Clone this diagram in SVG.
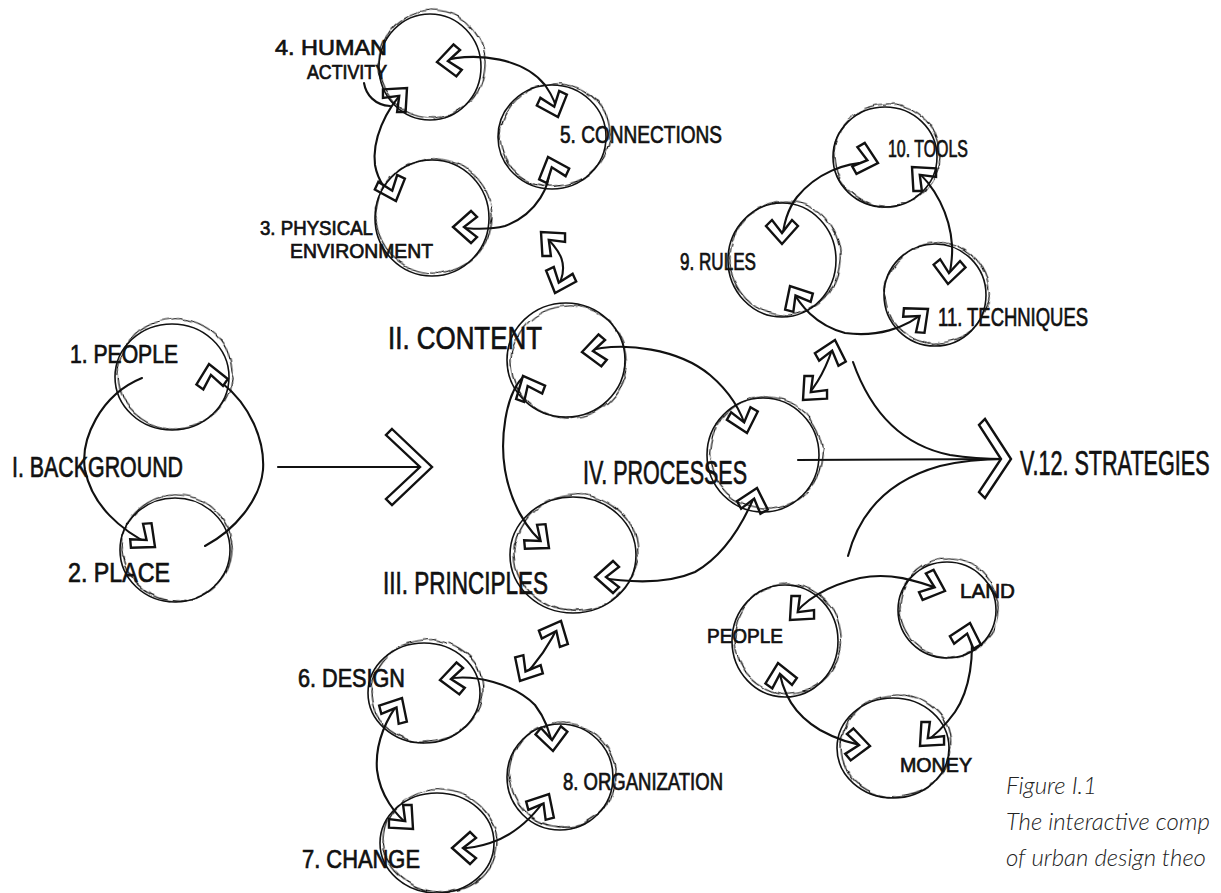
<svg xmlns="http://www.w3.org/2000/svg" xmlns:xlink="http://www.w3.org/1999/xlink" width="1221" height="893" viewBox="0 0 1221 893">
<style>
.c1{fill:none;stroke:#111;stroke-width:1.6}
.c2{fill:none;stroke:#111;stroke-width:1.2;filter:url(#rough)}
.ln{fill:none;stroke:#111;stroke-width:2.1;stroke-linecap:round;stroke-linejoin:round}
.ah{fill:#fff;stroke:#111;stroke-width:2.4;stroke-linejoin:miter}
.lb{font-family:"Liberation Sans",Arial,sans-serif;fill:#111;stroke:#111;stroke-width:0.7}
.cap{font-family:Lato,"Open Sans","Liberation Sans",sans-serif;font-style:italic;font-weight:300;font-size:24px;fill:#222}
</style>
<defs>
<filter id="rough" x="-10%" y="-10%" width="120%" height="120%">
<feTurbulence type="fractalNoise" baseFrequency="0.06" numOctaves="2" seed="4" result="n"/>
<feDisplacementMap in="SourceGraphic" in2="n" scale="5" xChannelSelector="R" yChannelSelector="G"/>
</filter>
<path id="ah" class="ah" d="M-18,-16 L0,0 L-18,16 L-24,10 L-11,0 L-24,-10 Z"/>
</defs>
<rect width="1221" height="893" fill="#fff"/>

<g id="connectors">
<path class="ln" d="M142,378 C100,395 80,440 85,470 C92,505 120,530 153,546"/>
<path class="ln" d="M222,383 C250,405 265,440 263,470 C260,500 235,530 205,546"/>
<path class="ln" d="M278,467 L430,467"/>
<path class="ln" d="M437,62 C480,50 525,60 545,85 C552,95 557,105 558,116"/>
<path class="ln" d="M405,90 C385,110 372,140 375,165 C378,182 388,193 396,201"/>
<path class="ln" d="M364,83 C366,95 375,105 390,106"/>
<path class="ln" d="M548,157 C555,185 535,215 505,226 C490,230 470,229 453,227"/>
<path class="ln" d="M541,232 C560,250 572,265 555,292"/>
<path class="ln" d="M877,163 C845,160 815,175 797,197 C787,210 783,225 782,243"/>
<path class="ln" d="M913,168 C935,185 950,215 952,245 C953,260 950,272 948,283"/>
<path class="ln" d="M790,287 C800,305 815,325 845,333 C875,337 905,330 928,309"/>
<path class="ln" d="M803,400 C818,385 828,365 835,340"/>
<path class="ln" d="M583,352 C625,340 680,350 710,375 C730,392 742,412 747,432"/>
<path class="ln" d="M523,377 C505,395 500,440 505,470 C510,500 525,530 548,547"/>
<path class="ln" d="M757,490 C745,520 725,555 695,572 C665,585 625,582 596,577"/>
<path class="ln" d="M798,460 L1005,459"/>
<path class="ln" d="M853,362 C870,410 900,445 950,455 C975,459 995,459 1005,459"/>
<path class="ln" d="M848,556 C860,510 890,480 940,466 C965,460 990,459 1005,459"/>
<path class="ln" d="M441,680 C475,672 515,685 535,705 C545,718 551,735 553,750"/>
<path class="ln" d="M402,698 C385,720 375,745 377,770 C380,795 395,815 412,828"/>
<path class="ln" d="M549,794 C535,815 515,835 490,843 C475,848 462,849 452,848"/>
<path class="ln" d="M560,622 C550,645 535,665 520,680"/>
<path class="ln" d="M790,620 C805,598 830,585 860,578 C890,572 915,580 945,591"/>
<path class="ln" d="M778,663 C782,695 795,715 820,730 C838,740 855,745 870,746"/>
<path class="ln" d="M970,623 C975,655 970,690 955,712 C945,726 932,738 920,746"/>
</g>

<g id="arrowheads">
<use xlink:href="#ah" transform="translate(437,62) rotate(175)"/>
<use xlink:href="#ah" transform="translate(407,88) rotate(-45)"/>
<use xlink:href="#ah" transform="translate(558,117) rotate(70)"/>
<use xlink:href="#ah" transform="translate(548,157) rotate(-110)"/>
<use xlink:href="#ah" transform="translate(396,201) rotate(70)"/>
<use xlink:href="#ah" transform="translate(453,227) rotate(180)"/>
<use xlink:href="#ah" transform="translate(541,232) rotate(-135)"/>
<use xlink:href="#ah" transform="translate(555,293) rotate(110)"/>
<use xlink:href="#ah" transform="translate(878,163) rotate(15)"/>
<use xlink:href="#ah" transform="translate(912,167) rotate(-135)"/>
<use xlink:href="#ah" transform="translate(782,244) rotate(90)"/>
<use xlink:href="#ah" transform="translate(790,286) rotate(-120)"/>
<use xlink:href="#ah" transform="translate(948,284) rotate(95)"/>
<use xlink:href="#ah" transform="translate(928,309) rotate(-40)"/>
<use xlink:href="#ah" transform="translate(835,340) rotate(-75)"/>
<use xlink:href="#ah" transform="translate(803,400) rotate(135)"/>
<use xlink:href="#ah" transform="translate(209,364) rotate(-100)"/>
<use xlink:href="#ah" transform="translate(155,547) rotate(40)"/>
<use xlink:href="#ah" transform="translate(582,352) rotate(175)"/>
<use xlink:href="#ah" transform="translate(523,376) rotate(-115)"/>
<use xlink:href="#ah" transform="translate(747,433) rotate(75)"/>
<use xlink:href="#ah" transform="translate(757,488) rotate(-75)"/>
<use xlink:href="#ah" transform="translate(549,548) rotate(40)"/>
<use xlink:href="#ah" transform="translate(595,577) rotate(180)"/>
<use xlink:href="#ah" transform="translate(440,680) rotate(175)"/>
<use xlink:href="#ah" transform="translate(402,698) rotate(-60)"/>
<use xlink:href="#ah" transform="translate(553,751) rotate(85)"/>
<use xlink:href="#ah" transform="translate(549,794) rotate(-60)"/>
<use xlink:href="#ah" transform="translate(413,829) rotate(45)"/>
<use xlink:href="#ah" transform="translate(452,848) rotate(180)"/>
<use xlink:href="#ah" transform="translate(561,621) rotate(-65)"/>
<use xlink:href="#ah" transform="translate(520,681) rotate(120)"/>
<use xlink:href="#ah" transform="translate(790,620) rotate(135)"/>
<use xlink:href="#ah" transform="translate(778,663) rotate(-100)"/>
<use xlink:href="#ah" transform="translate(945,591) rotate(20)"/>
<use xlink:href="#ah" transform="translate(970,623) rotate(-75)"/>
<use xlink:href="#ah" transform="translate(870,746) rotate(5)"/>
<use xlink:href="#ah" transform="translate(920,746) rotate(135)"/>
<path class="ah" d="M392,429 L432,467 L392,505 L386,499 L420,467 L386,435 Z"/>
<path class="ah" d="M985,419 L1011,459 L985,498 L979,492 L1001,459 L979,425 Z"/>
</g>

<g id="n-human-activity">
<ellipse class="c1" cx="430" cy="67" rx="51" ry="53"/>
<ellipse class="c2" cx="432" cy="64" rx="53" ry="54" transform="rotate(8 432 64)"/>
<text class="lb" x="275" y="55" font-size="22" textLength="112" lengthAdjust="spacingAndGlyphs">4. HUMAN</text>
<text class="lb" x="307" y="79" font-size="20" textLength="80" lengthAdjust="spacingAndGlyphs">ACTIVITY</text>
</g>
<g id="n-connections">
<ellipse class="c1" cx="552" cy="137" rx="54" ry="52"/>
<ellipse class="c2" cx="555" cy="135" rx="55" ry="51" transform="rotate(-10 555 135)"/>
<text class="lb" x="560" y="143" font-size="24" textLength="162" lengthAdjust="spacingAndGlyphs">5. CONNECTIONS</text>
</g>
<g id="n-physical-environment">
<ellipse class="c1" cx="432" cy="218" rx="57" ry="58"/>
<ellipse class="c2" cx="434" cy="216" rx="58" ry="57" transform="rotate(12 434 216)"/>
<text class="lb" x="260" y="235" font-size="20" textLength="113" lengthAdjust="spacingAndGlyphs">3. PHYSICAL</text>
<text class="lb" x="290" y="258" font-size="20" textLength="143" lengthAdjust="spacingAndGlyphs">ENVIRONMENT</text>
</g>
<g id="n-tools">
<ellipse class="c1" cx="885" cy="157" rx="52" ry="50"/>
<ellipse class="c2" cx="887" cy="155" rx="53" ry="51" transform="rotate(-8 887 155)"/>
<text class="lb" x="888" y="157" font-size="23" textLength="80" lengthAdjust="spacingAndGlyphs">10. TOOLS</text>
</g>
<g id="n-rules">
<ellipse class="c1" cx="782" cy="260" rx="54" ry="57"/>
<ellipse class="c2" cx="785" cy="258" rx="55" ry="57" transform="rotate(10 785 258)"/>
<text class="lb" x="680" y="270" font-size="23" textLength="76" lengthAdjust="spacingAndGlyphs">9. RULES</text>
</g>
<g id="n-techniques">
<ellipse class="c1" cx="935" cy="295" rx="51" ry="51"/>
<ellipse class="c2" cx="937" cy="293" rx="52" ry="50" transform="rotate(-12 937 293)"/>
<text class="lb" x="938" y="326" font-size="25" textLength="150" lengthAdjust="spacingAndGlyphs">11. TECHNIQUES</text>
</g>
<g id="n-people-1">
<ellipse class="c1" cx="172" cy="377" rx="57" ry="53"/>
<ellipse class="c2" cx="175" cy="374" rx="57" ry="55" transform="rotate(-10 175 374)"/>
<text class="lb" x="70" y="363" font-size="25" textLength="108" lengthAdjust="spacingAndGlyphs">1. PEOPLE</text>
</g>
<g id="n-background">
<text class="lb" x="12" y="477" font-size="29" textLength="171" lengthAdjust="spacingAndGlyphs">I. BACKGROUND</text>
</g>
<g id="n-place">
<ellipse class="c1" cx="175" cy="550" rx="55" ry="52"/>
<ellipse class="c2" cx="177" cy="548" rx="55" ry="53" transform="rotate(8 177 548)"/>
<text class="lb" x="68" y="582" font-size="27" textLength="102" lengthAdjust="spacingAndGlyphs">2. PLACE</text>
</g>
<g id="n-content">
<ellipse class="c1" cx="566" cy="360" rx="59" ry="57"/>
<ellipse class="c2" cx="569" cy="362" rx="58" ry="56" transform="rotate(-8 569 362)"/>
<text class="lb" x="388" y="349" font-size="31" textLength="154" lengthAdjust="spacingAndGlyphs">II. CONTENT</text>
</g>
<g id="n-processes">
<ellipse class="c1" cx="763" cy="455" rx="56" ry="57"/>
<ellipse class="c2" cx="766" cy="453" rx="56" ry="56" transform="rotate(10 766 453)"/>
<text class="lb" x="583" y="484" font-size="33" textLength="164" lengthAdjust="spacingAndGlyphs">IV. PROCESSES</text>
</g>
<g id="n-principles">
<ellipse class="c1" cx="573" cy="555" rx="63" ry="58"/>
<ellipse class="c2" cx="576" cy="553" rx="62" ry="58" transform="rotate(-8 576 553)"/>
<text class="lb" x="383" y="594" font-size="31" textLength="165" lengthAdjust="spacingAndGlyphs">III. PRINCIPLES</text>
</g>
<g id="n-strategies">
<text class="lb" x="0" y="0" font-size="36" transform="translate(1020,475) scale(0.6,1)">V.12. STRATEGIES</text>
</g>
<g id="n-design">
<ellipse class="c1" cx="424" cy="693" rx="56" ry="50"/>
<ellipse class="c2" cx="427" cy="691" rx="56" ry="51" transform="rotate(-10 427 691)"/>
<text class="lb" x="298" y="687" font-size="25" textLength="107" lengthAdjust="spacingAndGlyphs">6. DESIGN</text>
</g>
<g id="n-organization">
<ellipse class="c1" cx="560" cy="777" rx="53" ry="53"/>
<ellipse class="c2" cx="563" cy="775" rx="53" ry="52" transform="rotate(10 563 775)"/>
<text class="lb" x="563" y="790" font-size="23" textLength="160" lengthAdjust="spacingAndGlyphs">8. ORGANIZATION</text>
</g>
<g id="n-change">
<ellipse class="c1" cx="437" cy="843" rx="57" ry="50"/>
<ellipse class="c2" cx="440" cy="841" rx="57" ry="51" transform="rotate(8 440 841)"/>
<text class="lb" x="302" y="868" font-size="25" textLength="118" lengthAdjust="spacingAndGlyphs">7. CHANGE</text>
</g>
<g id="n-people-2">
<ellipse class="c1" cx="785" cy="641" rx="53" ry="56"/>
<ellipse class="c2" cx="788" cy="639" rx="53" ry="55" transform="rotate(-10 788 639)"/>
<text class="lb" x="707" y="643" font-size="21" textLength="76" lengthAdjust="spacingAndGlyphs">PEOPLE</text>
</g>
<g id="n-land">
<ellipse class="c1" cx="947" cy="610" rx="49" ry="48"/>
<ellipse class="c2" cx="949" cy="608" rx="49" ry="49" transform="rotate(10 949 608)"/>
<text class="lb" x="960" y="598" font-size="21" textLength="55" lengthAdjust="spacingAndGlyphs">LAND</text>
</g>
<g id="n-money">
<ellipse class="c1" cx="893" cy="748" rx="56" ry="50"/>
<ellipse class="c2" cx="896" cy="746" rx="55" ry="51" transform="rotate(-8 896 746)"/>
<text class="lb" x="900" y="772" font-size="21" textLength="72" lengthAdjust="spacingAndGlyphs">MONEY</text>
</g>

<g id="caption">
<text class="cap" x="1006" y="794">Figure I.1</text>
<text class="cap" x="1006" y="830">The interactive comp</text>
<text class="cap" x="1006" y="866">of urban design theo</text>
</g>
</svg>
